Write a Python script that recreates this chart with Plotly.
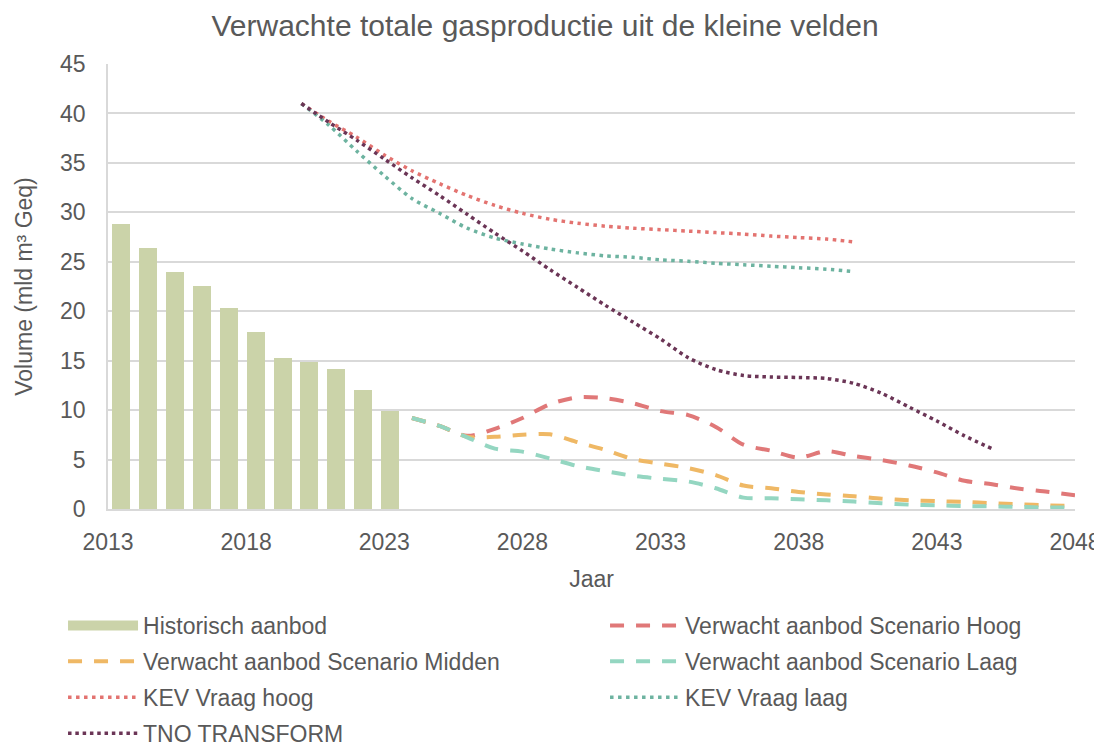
import plotly.graph_objects as go

# ---------------- data ----------------
hist_years = [2013, 2014, 2015, 2016, 2017, 2018, 2019, 2020, 2021, 2022, 2023]
hist_values = [28.8, 26.4, 24.0, 22.6, 20.3, 17.9, 15.3, 14.9, 14.2, 12.0, 9.9]

scen_years = list(range(2024, 2049))
scen_hoog = [9.2, 8.4, 7.4, 8.1, 9.2, 10.6, 11.3, 11.2, 10.7, 9.9, 9.5, 8.3, 6.5,
             5.9, 5.2, 5.85, 5.35, 4.95, 4.4, 3.7, 2.85, 2.5, 2.05, 1.75, 1.4]
scen_midden = [9.2, 8.4, 7.3, 7.3, 7.5, 7.55, 6.75, 5.97, 5.05, 4.58, 4.14, 3.42, 2.37,
               2.1, 1.73, 1.46, 1.29, 1.05, 0.88, 0.8, 0.71, 0.58, 0.47, 0.37, 0.3]
scen_laag = [9.2, 8.4, 7.25, 6.1, 5.8, 5.1, 4.34, 3.83, 3.36, 3.05, 2.78, 2.1, 1.15,
             1.08, 0.98, 0.88, 0.75, 0.58, 0.44, 0.37, 0.3, 0.27, 0.2, 0.15, 0.15]

kev_years = list(range(2020, 2041))
kev_hoog = [41.0, 39.2, 37.6, 35.8, 34.2, 32.9, 31.7, 30.7, 29.9, 29.3, 28.9,
            28.6, 28.4, 28.25, 28.1, 27.95, 27.8, 27.6, 27.45, 27.3, 27.0]
kev_laag = [41.0, 38.8, 36.2, 33.7, 31.4, 29.9, 28.4, 27.4, 26.8, 26.3, 25.9,
            25.6, 25.45, 25.2, 25.05, 24.85, 24.7, 24.55, 24.4, 24.25, 24.0]

tno_years = list(range(2020, 2046))
tno_values = [41.0, 39.1, 37.3, 35.4, 33.5, 31.7, 29.8, 27.9, 26.1, 24.2, 22.4, 20.6, 18.9,
              17.2, 15.3, 14.1, 13.5, 13.35, 13.3, 13.2, 12.7, 11.7, 10.3, 8.9, 7.4, 6.1]

x_ticks = [2013, 2018, 2023, 2028, 2033, 2038, 2043, 2048]

# ---------------- style ----------------
FONT = "Liberation Sans"
TXT = "#595959"
GRID = "#d9d9d9"
BAR_COLOR = "#cbd3a9"

fig = go.Figure()

fig.add_trace(go.Bar(
    x=hist_years, y=hist_values, name="Historisch aanbod",
    marker=dict(color=BAR_COLOR, line=dict(width=0)),
    width=0.67, xaxis="x2", yaxis="y", showlegend=False))

# legend entry for the bars (wide rectangular swatch like the original)
fig.add_trace(go.Scatter(x=[None], y=[None], mode="lines", name="Historisch aanbod",
                         line=dict(color=BAR_COLOR, width=12),
                         legend="legend", legendgroup="g1"))

line_common = dict(mode="lines", line_shape="spline")
fig.add_trace(go.Scatter(x=scen_years, y=scen_hoog, name="Verwacht aanbod Scenario Hoog",
                         line=dict(color="#e07878", width=4, dash="14px,12px", smoothing=0.8),
                         legend="legend2", legendgroup="g2", **line_common))
fig.add_trace(go.Scatter(x=scen_years, y=scen_midden, name="Verwacht aanbod Scenario Midden",
                         line=dict(color="#efb865", width=4, dash="14px,12px", smoothing=0.8),
                         legend="legend", legendgroup="g3", **line_common))
fig.add_trace(go.Scatter(x=scen_years, y=scen_laag, name="Verwacht aanbod Scenario Laag",
                         line=dict(color="#94d6c1", width=4, dash="14px,12px", smoothing=0.8),
                         legend="legend2", legendgroup="g4", **line_common))
fig.add_trace(go.Scatter(x=kev_years, y=kev_hoog, name="KEV Vraag hoog",
                         line=dict(color="#e37370", width=3.5, dash="3.5px,4.5px", smoothing=0.8),
                         legend="legend", legendgroup="g5", **line_common))
fig.add_trace(go.Scatter(x=kev_years, y=kev_laag, name="KEV Vraag laag",
                         line=dict(color="#6db3a0", width=3.5, dash="3.5px,4.5px", smoothing=0.8),
                         legend="legend2", legendgroup="g6", **line_common))
fig.add_trace(go.Scatter(x=tno_years, y=tno_values, name="TNO TRANSFORM",
                         line=dict(color="#6b3556", width=3.5, dash="3.5px,3.8px", smoothing=0.8),
                         legend="legend", legendgroup="g7", **line_common))

legend_common = dict(orientation="v", yanchor="top", xanchor="left", itemwidth=70,
                     tracegroupgap=3, font=dict(family=FONT, size=23, color=TXT),
                     bgcolor="rgba(0,0,0,0)", traceorder="grouped")

# the page body has an 8px margin, so the figure is sized/offset to compensate
fig.update_layout(
    width=1094, height=736,
    margin=dict(l=100, r=27, t=56, b=235, pad=0, autoexpand=False),
    paper_bgcolor="white", plot_bgcolor="white",
    font=dict(family=FONT, size=23, color=TXT),
    title=dict(text="Verwachte totale gasproductie uit de kleine velden",
               font=dict(family=FONT, size=30, color=TXT),
               x=0.4909, xref="container", xanchor="center",
               y=0.9762, yref="container", yanchor="middle"),
    xaxis=dict(range=[2013, 2048], tickvals=x_ticks, showgrid=False,
               showline=True, linecolor=GRID, linewidth=1.5, ticks="",
               ticklabelstandoff=12,
               title=dict(text="Jaar", font=dict(size=23, color=TXT), standoff=17),
               zeroline=False),
    xaxis2=dict(range=[2012.5, 2048.5], overlaying="x", visible=False),
    yaxis=dict(range=[0, 45], dtick=5, showgrid=True, gridcolor=GRID, gridwidth=1.5,
               showline=True, linecolor=GRID, linewidth=1.5, ticks="",
               ticklabelstandoff=16, zeroline=False,
               title=dict(text="Volume (mld m³ Geq)", font=dict(size=23, color=TXT), standoff=21)),
    bargap=0,
    legend=dict(x=-0.0465, y=-0.2135, **legend_common),
    legend2=dict(x=0.514, y=-0.2135, **legend_common),
    showlegend=True,
)

fig.write_html("out.html")
